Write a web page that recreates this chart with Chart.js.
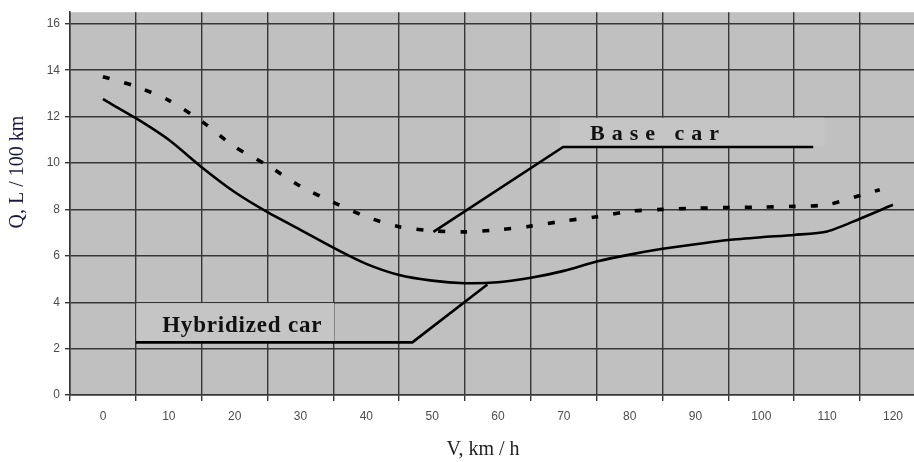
<!DOCTYPE html>
<html>
<head>
<meta charset="utf-8">
<script src="https://cdn.jsdelivr.net/npm/chart.js@4/dist/chart.umd.min.js"></script>
<style>
html,body{margin:0;padding:0;background:#fff;overflow:hidden}
#wrap{width:914px;height:462px;position:relative}
</style>
</head>
<body>
<div id="wrap"><canvas id="c" width="914" height="462"></canvas></div>
<script>
// ---- data ----
const speedTicks = [0,10,20,30,40,50,60,70,80,90,100,110,120];   // V, km/h labels
const fuelTicks  = [0,2,4,6,8,10,12,14,16];                       // Q, L/100 km labels

const hybridV = [0,5,10,15,20,25,30,35,40,45,50,55,60,65,70,75,80,85,90,95,100,105,110,115,120];
const hybridQ = [12.75,11.93,11.0,9.82,8.75,7.88,7.12,6.35,5.65,5.17,4.93,4.82,4.86,5.05,5.35,5.75,6.05,6.3,6.5,6.68,6.8,6.9,7.05,7.6,8.2];

const baseV = [0,5,10,15,20,25,30,35,40,45,50,55,60,65,70,75,80,85,90,95,100,105,110,115,118];
const baseQ = [13.72,13.3,12.7,11.8,10.7,9.9,9.0,8.3,7.68,7.25,7.08,7.03,7.12,7.28,7.5,7.68,7.92,8.0,8.05,8.08,8.1,8.13,8.2,8.6,8.85];

const baseLeaderV = [50.2,69.9,107.9];
const baseLeaderQ = [7.03,10.69,10.69];
const hybridLeaderV = [5.0,47.0,58.4];
const hybridLeaderQ = [2.27,2.27,4.76];

const baseLabel = 'Base car';
const hybridLabel = 'Hybridized car';
const xTitle = 'V, km / h';
const yTitle = 'Q, L / 100 km';

// label anchor points in data units
const baseLabelAt = {v:74.0, q:11.0};
const hybridLabelAt = {v:9.0, q:2.7};
const baseBox = {v0:69.4, v1:109.6, q0:10.72, q1:11.95};
const hybridBox = {v0:5.1, v1:35.1, q0:2.3, q1:3.96};

const toPts = (xs, ys) => xs.map((x,i)=>({x:x, y:ys[i]}));

const bgPlugin = {
  id:'bg',
  beforeDraw(chart){
    const {ctx, chartArea:a} = chart;
    ctx.save();
    ctx.fillStyle = '#ffffff';
    ctx.fillRect(0,0,chart.width,chart.height);
    ctx.fillStyle = '#c0c0c0';
    ctx.fillRect(a.left,a.top,a.right-a.left,a.bottom-a.top);
    ctx.restore();
  },
  beforeDatasetsDraw(chart){
    const {ctx, scales:{x,y}} = chart;
    ctx.save();
    ctx.fillStyle = '#c5c5c5';
    [baseBox, hybridBox].forEach(b=>{
      const x0 = x.getPixelForValue(b.v0), x1 = x.getPixelForValue(b.v1);
      const y0 = y.getPixelForValue(b.q1), y1 = y.getPixelForValue(b.q0);
      ctx.fillRect(x0,y0,x1-x0,y1-y0);
    });
    ctx.restore();
  },
  afterDatasetsDraw(chart){
    const {ctx, scales:{x,y}} = chart;
    ctx.save();
    ctx.fillStyle = '#111';
    ctx.textBaseline = 'alphabetic';
    ctx.textAlign = 'left';
    ctx.font = 'bold 22px "Liberation Serif", "Times New Roman", serif';
    try { ctx.letterSpacing = '7px'; } catch(e){}
    ctx.fillText(baseLabel, x.getPixelForValue(baseLabelAt.v), y.getPixelForValue(baseLabelAt.q));
    ctx.font = 'bold 23px "Liberation Serif", "Times New Roman", serif';
    try { ctx.letterSpacing = '0.8px'; } catch(e){}
    ctx.fillText(hybridLabel, x.getPixelForValue(hybridLabelAt.v), y.getPixelForValue(hybridLabelAt.q));
    try { ctx.letterSpacing = '0px'; } catch(e){}
    ctx.restore();
  },
  afterDraw(chart){
    const {ctx} = chart;
    ctx.save();
    ctx.font = '20px "Liberation Serif", "Times New Roman", serif';
    ctx.textAlign = 'center';
    ctx.textBaseline = 'middle';
    ctx.fillStyle = '#222';
    ctx.fillText(xTitle, 483, 450);
    ctx.translate(18, 172);
    ctx.rotate(-Math.PI/2);
    ctx.fillStyle = '#1a1a3c';
    ctx.fillText(yTitle, 0, 0);
    ctx.restore();
  }
};

const gridColor = '#363636';

new Chart(document.getElementById('c'), {
  type:'line',
  data:{
    datasets:[
      {label:hybridLabel, data:toPts(hybridV,hybridQ), borderColor:'#000', borderWidth:2.6, pointRadius:0, tension:0.25, fill:false},
      {label:baseLabel, data:toPts(baseV,baseQ), borderColor:'#000', borderWidth:3.6, borderDash:[7,15], borderCapStyle:'butt', pointRadius:0, tension:0.25, fill:false},
      {label:'base leader', data:toPts(baseLeaderV,baseLeaderQ), borderColor:'#000', borderWidth:2.6, pointRadius:0, tension:0, fill:false},
      {label:'hybrid leader', data:toPts(hybridLeaderV,hybridLeaderQ), borderColor:'#000', borderWidth:2.6, pointRadius:0, tension:0, fill:false}
    ]
  },
  options:{
    responsive:false,
    devicePixelRatio:1,
    animation:false,
    events:[],
    layout:{padding:{top:10,right:0,left:0,bottom:0}},
    plugins:{legend:{display:false}, tooltip:{enabled:false}, title:{display:false}},
    scales:{
      x:{
        type:'linear', min:-5, max:123.2,
        afterBuildTicks:(s)=>{ s.ticks = speedTicks.map(v=>({value:v-5})); },
        afterFit:(s)=>{ s.height = 67; },
        ticks:{
          autoSkip:false, maxRotation:0, minRotation:0,
          callback:(v,i)=>String(speedTicks[i]),
          labelOffset:33, padding:8, color:'#4d4d4d',
          font:{family:'"Liberation Sans", Arial, sans-serif', size:12}
        },
        grid:{color:gridColor, lineWidth:1.4, tickLength:6, drawTicks:true},
        border:{color:gridColor, width:1.5}
      },
      y:{
        type:'linear', min:0, max:16.5,
        afterBuildTicks:(s)=>{ s.ticks = fuelTicks.map(v=>({value:v})); },
        afterFit:(s)=>{ s.width = 70; },
        ticks:{
          callback:(v,i)=>String(fuelTicks[i]),
          padding:5, color:'#4d4d4d',
          font:{family:'"Liberation Sans", Arial, sans-serif', size:12}
        },
        grid:{color:gridColor, lineWidth:1.4, tickLength:5, drawTicks:true},
        border:{color:gridColor, width:1.5}
      }
    }
  },
  plugins:[bgPlugin]
});
</script>
</body>
</html>
